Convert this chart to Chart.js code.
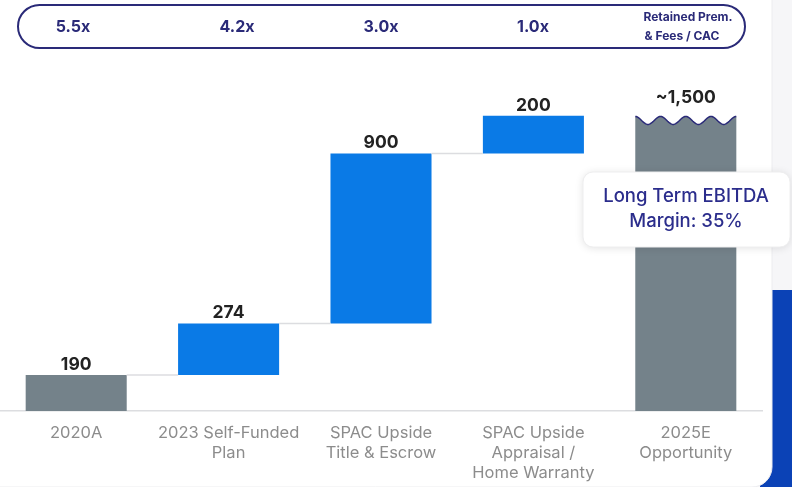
<!DOCTYPE html>
<html>
<head>
<meta charset="utf-8">
<script src="https://cdn.jsdelivr.net/npm/chart.js@4.4.0/dist/chart.umd.min.js"></script>
<style>
  html, body { margin: 0; padding: 0; background: #ffffff; }
  #wrap { position: relative; width: 792px; height: 487px; }
  canvas { display: block; }
</style>
</head>
<body>
<div id="wrap"><canvas id="c" width="792" height="487"></canvas></div>
<script>
// ---- data ----
const categories = [
  ['2020A'],
  ['2023 Self-Funded', 'Plan'],
  ['SPAC Upside', 'Title & Escrow'],
  ['SPAC Upside', 'Appraisal /', 'Home Warranty'],
  ['2025E', 'Opportunity']
];
const startValue = 190;              // 2020A
const increments = [274, 900, 200];  // waterfall steps
const endValue = 1560;               // 2025E bar height (approx, shown as ~1,500)
const valueLabels = ['190', '274', '900', '200', '~1,500'];
const multiples = ['5.5x', '4.2x', '3.0x', '1.0x'];
const multiplesTitle = ['Retained Prem.', '& Fees / CAC'];
const calloutLines = ['Long Term EBITDA', 'Margin: 35%'];

// build floating bars from the arrays
const floating = [[0, startValue]];
let cum = startValue;
increments.forEach(v => { floating.push([cum, cum + v]); cum += v; });
floating.push([0, endValue]);

const GREY = '#74828a';
const BLUE = '#0a7ae6';
const NAVY = '#2a2a78';
const barColors = floating.map((d, i) => (i === 0 || i === floating.length - 1) ? GREY : BLUE);

function roundRect(ctx, x, y, w, h, r) {
  ctx.beginPath();
  ctx.moveTo(x + r, y);
  ctx.lineTo(x + w - r, y);
  ctx.arcTo(x + w, y, x + w, y + r, r);
  ctx.lineTo(x + w, y + h - r);
  ctx.arcTo(x + w, y + h, x + w - r, y + h, r);
  ctx.lineTo(x + r, y + h);
  ctx.arcTo(x, y + h, x, y + h - r, r);
  ctx.lineTo(x, y + r);
  ctx.arcTo(x, y, x + r, y, r);
  ctx.closePath();
}

const decor = {
  id: 'decor',
  beforeDraw(chart) {
    const ctx = chart.ctx;
    ctx.save();
    ctx.fillStyle = '#f6f6f8';
    ctx.fillRect(0, 0, 792, 487);
    ctx.fillStyle = '#0b42b6';
    ctx.fillRect(760, 290, 32, 197);
    ctx.fillStyle = '#ffffff';
    roundRect(ctx, -30, -30, 802, 517, 20);
    ctx.fill();
    ctx.strokeStyle = '#ececef';
    ctx.lineWidth = 1;
    ctx.stroke();
    ctx.restore();
  },
  afterDatasetsDraw(chart) {
    const ctx = chart.ctx;
    const meta = chart.getDatasetMeta(0);
    const els = meta.data;
    ctx.save();
    // connectors
    ctx.strokeStyle = '#dcdde0';
    ctx.lineWidth = 1.5;
    for (let i = 0; i < els.length - 2; i++) {
      const a = els[i], b = els[i + 1];
      const y = chart.scales.y.getPixelForValue(floating[i][1]);
      ctx.beginPath();
      ctx.moveTo(a.x + a.width / 2, y);
      ctx.lineTo(b.x - b.width / 2, y);
      ctx.stroke();
    }
    // wavy top on final bar
    const last = els[els.length - 1];
    const x0 = last.x - last.width / 2, x1 = last.x + last.width / 2;
    const top = last.y;
    const amp = 8, waves = 4;
    const waveY = t => top + amp * (1 - Math.cos(2 * Math.PI * waves * t)) / 2;
    ctx.beginPath();
    ctx.moveTo(x0 - 1, top - 2);
    for (let k = 0; k <= 100; k++) {
      const t = k / 100;
      ctx.lineTo(x0 + t * (x1 - x0), waveY(t));
    }
    ctx.lineTo(x1 + 1, top - 2);
    ctx.closePath();
    ctx.fillStyle = '#ffffff';
    ctx.fill();
    ctx.beginPath();
    for (let k = 0; k <= 100; k++) {
      const t = k / 100;
      const xx = x0 + t * (x1 - x0), yy = waveY(t);
      if (k === 0) ctx.moveTo(xx, yy); else ctx.lineTo(xx, yy);
    }
    ctx.strokeStyle = NAVY;
    ctx.lineWidth = 1.5;
    ctx.stroke();

    // value labels
    ctx.fillStyle = '#222222';
    ctx.font = 'bold 17.5px Inter, "Liberation Sans", sans-serif';
    ctx.textAlign = 'center';
    ctx.textBaseline = 'alphabetic';
    els.forEach((el, i) => {
      const y = chart.scales.y.getPixelForValue(floating[i][1]);
      ctx.fillText(valueLabels[i], el.x, y - (i === els.length - 1 ? 13 : 5));
    });

    // top pill with multiples
    ctx.strokeStyle = NAVY;
    ctx.lineWidth = 2;
    roundRect(ctx, 18, 5, 727, 43, 21.5);
    ctx.stroke();
    ctx.fillStyle = NAVY;
    ctx.font = 'bold 16px Inter, "Liberation Sans", sans-serif';
    ctx.textBaseline = 'middle';
    const mx = [73, 237, 381, 533];
    multiples.forEach((m, i) => ctx.fillText(m, mx[i], 27));
    ctx.font = 'bold 12px Inter, "Liberation Sans", sans-serif';
    ctx.fillText(multiplesTitle[0], 688, 17);
    ctx.fillText(multiplesTitle[1], 682, 36);

    // callout box
    ctx.save();
    ctx.shadowColor = 'rgba(0,0,0,0.12)';
    ctx.shadowBlur = 8;
    ctx.shadowOffsetY = 1;
    ctx.fillStyle = '#ffffff';
    roundRect(ctx, 583, 172, 207, 75, 10);
    ctx.fill();
    ctx.restore();
    ctx.strokeStyle = '#eeeeef';
    ctx.lineWidth = 1;
    roundRect(ctx, 583, 172, 207, 75, 10);
    ctx.stroke();
    ctx.fillStyle = '#2b2d8c';
    ctx.font = '500 18.5px Inter, "Liberation Sans", sans-serif';
    ctx.fillText(calloutLines[0], 686, 196);
    ctx.fillText(calloutLines[1], 686, 221);
    ctx.restore();
  }
};

new Chart(document.getElementById('c'), {
  type: 'bar',
  data: {
    labels: categories,
    datasets: [{
      data: floating,
      backgroundColor: barColors,
      borderWidth: 0,
      borderSkipped: false,
      barPercentage: 0.663,
      categoryPercentage: 1
    }]
  },
  options: {
    responsive: false,
    animation: false,
    layout: { padding: { top: 90, left: 0, right: 30, bottom: 0 } },
    plugins: { legend: { display: false }, tooltip: { enabled: false } },
    scales: {
      x: {
        grid: { display: false },
        border: { display: true, color: '#dcdde0', width: 1.5 },
        ticks: {
          color: '#8c8c8c',
          font: { family: 'Inter, "Liberation Sans", sans-serif', size: 16.5, lineHeight: 1.22 },
          padding: 4,
          maxRotation: 0,
          autoSkip: false
        },
        afterFit(scale) { scale.height = 76; }
      },
      y: {
        display: false,
        min: 0,
        max: 1700
      }
    }
  },
  plugins: [decor]
});
</script>
</body>
</html>
